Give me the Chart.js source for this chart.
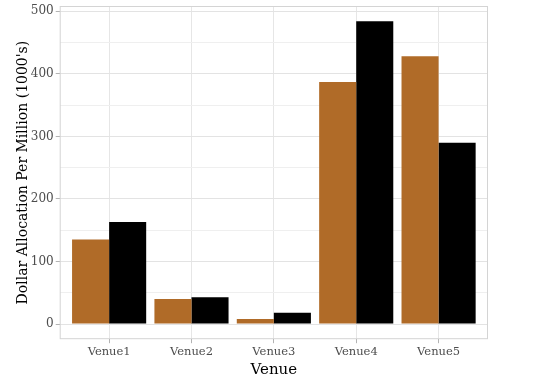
<!DOCTYPE html>
<html>
<head>
<meta charset="utf-8">
<script src="https://cdn.jsdelivr.net/npm/chart.js@4"></script>
<style>
  html, body { margin: 0; padding: 0; background: #fff; }
  #wrap { width: 536px; height: 379px; }
</style>
</head>
<body>
<div id="wrap"><canvas id="myChart"></canvas></div>
<script>
const venues = ['Venue1', 'Venue2', 'Venue3', 'Venue4', 'Venue5'];
const seriesA = [135, 40, 8, 387, 428];
const seriesB = [163, 43, 18, 484, 290];
const yTicks = [0, 50, 100, 150, 200, 250, 300, 350, 400, 450, 500];

const toPoints = vals => vals.map((v, i) => ({ x: i + 1, y: v }));

// panel border all round, like ggplot's theme_light
const panelBorder = {
  id: 'panelBorder',
  afterDraw(chart) {
    const a = chart.chartArea, c = chart.ctx;
    c.save();
    c.strokeStyle = '#d4d4d4';
    c.lineWidth = 1;
    c.strokeRect(a.left + 0.5, a.top + 0.5, a.right - a.left - 1, a.bottom - a.top - 1);
    c.restore();
  }
};

Chart.defaults.font.family = "'DejaVu Serif', serif";
Chart.defaults.animation = false;

const ctx = document.getElementById('myChart');
new Chart(ctx, {
  type: 'bar',
  data: {
    datasets: [{
      label: 'A',
      data: toPoints(seriesA),
      backgroundColor: '#b06b28',
      borderWidth: 0,
      categoryPercentage: 0.9,
      barPercentage: 1.0
    }, {
      label: 'B',
      data: toPoints(seriesB),
      backgroundColor: '#000000',
      borderWidth: 0,
      categoryPercentage: 0.9,
      barPercentage: 1.0
    }]
  },
  plugins: [panelBorder],
  options: {
    responsive: true,
    maintainAspectRatio: false,
    layout: { padding: { top: 6, right: 48, left: 15, bottom: 0 } },
    plugins: { legend: { display: false }, tooltip: { enabled: false } },
    scales: {
      x: {
        type: 'linear',
        offset: false,
        min: 0.4,
        max: 5.6,
        afterBuildTicks: axis => { axis.ticks = venues.map((v, i) => ({ value: i + 1 })); },
        ticks: {
          callback: v => venues[v - 1] || '',
          color: '#4d4d4d',
          font: { size: 11.5 },
          padding: 2,
          maxRotation: 0
        },
        grid: { offset: false, color: '#e6e6e6', tickColor: '#b3b3b3', tickLength: 4 },
        border: { display: false },
        title: { display: true, text: 'Venue', color: '#000', font: { size: 15 }, padding: { top: 0, bottom: 0 } }
      },
      y: {
        min: -24.2,
        max: 508.4,
        afterBuildTicks: axis => { axis.ticks = yTicks.map(v => ({ value: v })); },
        afterFit: axis => { axis.paddingTop = 0; axis.paddingBottom = 0; },
        ticks: {
          callback: v => (v % 100 === 0 ? v : ''),
          color: '#4d4d4d',
          font: { size: 12 },
          padding: 2
        },
        grid: {
          color: c => (c.tick && c.tick.value % 100 === 0 ? '#e3e3e3' : '#efefef'),
          tickColor: c => (c.tick && c.tick.value % 100 === 0 ? '#b3b3b3' : 'rgba(0,0,0,0)'),
          tickLength: 4
        },
        border: { display: false },
        title: { display: true, text: "Dollar Allocation Per Million (1000's)", color: '#000', font: { size: 14 }, padding: { top: 0, bottom: -3 } }
      }
    }
  }
});
</script>
</body>
</html>
